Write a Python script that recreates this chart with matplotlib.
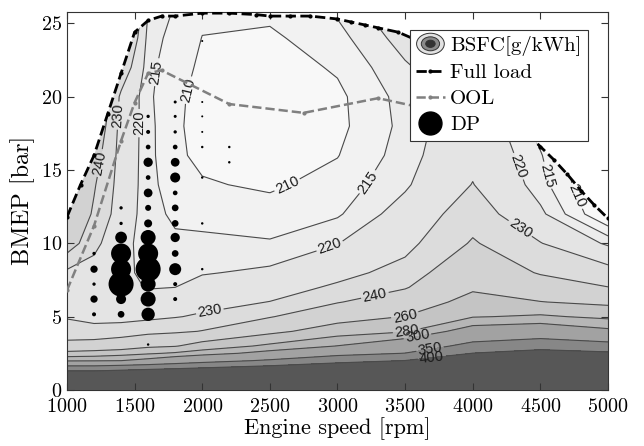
import numpy as np
import matplotlib.pyplot as plt
from matplotlib.patches import Polygon, Ellipse
from matplotlib.legend_handler import HandlerBase
from matplotlib.lines import Line2D

plt.rcParams['font.family'] = 'cmr10'
plt.rcParams['axes.formatter.use_mathtext'] = True
plt.rcParams['mathtext.fontset'] = 'cm'

# --- BSFC map [g/kWh], one row per engine speed, one value per BMEP node ---
speed = [1000, 1200, 1400, 1600, 1800, 2000, 2500, 3000, 3500, 4000, 4500, 5000]
bmep = [0, 1, 1.5, 2, 2.5, 3, 4, 5, 6, 7, 8, 10, 12, 14, 16, 18, 20, 22, 24, 26]
bsfc_by_speed = [
    [800, 443, 371, 297, 266, 243, 235.4, 229, 226, 226, 228, 246, 252, 258, 262, 266, 270, 275, 280, 285],
    [800, 443, 371, 298, 268, 246, 232.3, 228, 225, 224.5, 226, 232.7, 238.5, 241, 245, 250, 256, 262, 268, 274],
    [800, 450, 378.6, 300, 272.5, 248, 234.4, 227, 224, 222.5, 222, 222.5, 225, 226, 226.5, 227, 228, 238, 250, 260],
    [800, 457, 386, 308, 277.5, 256, 236, 228.2, 223.8, 219.5, 218, 217, 216.5, 216.5, 216.5, 216.5, 216, 216.5, 217.5, 220],
    [800, 464, 393, 321.4, 282.5, 258.8, 237.8, 229.5, 224.8, 220, 217.5, 215.8, 214.2, 212.5, 211, 210.8, 211, 211.8, 213, 214.5],
    [800, 471, 401, 333.3, 290, 268, 240.5, 231.3, 226.7, 222.7, 219.5, 216.2, 213.2, 210.5, 208.8, 208.3, 208.5, 209.2, 209.9, 211],
    [800, 481, 419, 356, 309, 284, 255, 239.1, 230.2, 225.7, 221.3, 215.5, 212.1, 209.2, 207.3, 206.5, 206.5, 207.2, 209.0, 211.5],
    [800, 494, 439, 383, 335.7, 300.5, 270, 252, 239.2, 231.5, 227.1, 219.8, 214.3, 212.0, 209.8, 208.6, 208.8, 210.7, 213.2, 216],
    [800, 500, 450, 401, 351, 322.2, 278.2, 260.5, 248.9, 238.9, 233.3, 227.1, 223.1, 219.0, 217.3, 216.5, 217.0, 219.2, 222.5, 226],
    [800, 507, 471, 436, 401, 364, 313.6, 278.8, 266.3, 257.3, 251.9, 241.1, 235.4, 230.3, 227.5, 226, 225.5, 226, 227, 229],
    [800, 534.6, 496, 457.7, 419, 380.8, 320, 282.9, 260.5, 248.2, 238.75, 230.4, 221.4, 217.0, 215.4, 213, 212, 213, 214, 216],
    [800, 533, 491, 450, 408, 367, 305.6, 275.6, 255.4, 240.2, 234.1, 218.75, 204, 202, 202, 202, 202, 202, 202, 202],
]

# --- full load curve ---
fl_speed = [1000, 1100, 1200, 1300, 1400, 1500, 1600, 1700, 1800, 2000, 2200, 2400, 2500,
            2650, 2800, 3000, 3100, 3200, 3300, 3450, 3600, 3800, 4000, 4200, 4400, 4500,
            4600, 4700, 4800, 4900, 5000]
fl_bmep = [11.8, 14.0, 16.0, 18.8, 21.6, 24.4, 25.2, 25.5, 25.5, 25.7, 25.7, 25.6, 25.5,
           25.5, 25.5, 25.3, 25.1, 24.9, 24.7, 24.4, 23.8, 22.6, 21.2, 19.6, 17.5, 16.6,
           15.7, 14.7, 13.6, 12.6, 11.7]

# --- optimal operating line ---
ool_speed = [1000, 1200, 1400, 1500, 1600, 1700, 2200, 2750, 3300, 3550, 4100]
ool_bmep = [6.8, 11.2, 17.0, 19.6, 21.6, 21.8, 19.5, 18.9, 19.9, 19.4, 19.8]

# --- drive cycle operating points (weight ~ time share) ---
dp_speed = [1200] * 5 + [1400] * 8 + [1600] * 15 + [1800] * 14 + [2000] * 8 + [2200] * 2
dp_bmep = [9.31, 8.24, 7.22, 6.2, 5.16,
           12.42, 11.36, 10.4, 9.31, 8.24, 7.22, 6.2, 5.16,
           18.66, 17.6, 16.57, 15.53, 14.49, 13.44, 12.42, 11.36, 10.4, 9.31, 8.24, 7.22, 6.2, 5.16, 3.1,
           19.64, 18.66, 17.6, 16.57, 15.53, 14.49, 13.44, 12.42, 11.36, 10.4, 9.31, 8.24, 7.22, 6.2,
           23.8, 19.64, 18.66, 17.6, 16.57, 14.49, 11.36, 8.24,
           16.57, 15.53]
dp_weight = [1.1, 5.3, 1.1, 5.3, 1.6,
             1.1, 1.1, 13.7, 40, 40, 62.5, 10, 4.5,
             1.1, 1.6, 2.2, 8.6, 2.2, 7.6, 3.6, 6.4, 22.5, 40, 62.5, 22.5, 22.5, 17.7, 0.6,
             0.9, 0.9, 1.1, 2.2, 7.6, 10, 2.2, 4.5, 4.5, 8.6, 4.5, 14.4, 1.6, 1.6,
             0.4, 0.4, 0.4, 0.4, 0.6, 0.6, 0.6, 0.6,
             0.6, 0.6]

fill_levels = [150, 210, 215, 220, 230, 240, 260, 280, 300, 350, 400, 1000]
line_levels = [210, 215, 220, 230, 240, 260, 280, 300, 350, 400]
fill_colors = ['#f8f8f8', '#f2f2f2', '#ececec', '#e4e4e4', '#dcdcdc', '#d2d2d2',
               '#c4c4c4', '#b6b6b6', '#a2a2a2', '#878787', '#575757']

# where the contour labels sit
label_pos = [(1230, 15.5), (1404, 18.7), (1515, 18.2), (1640, 21.7), (1836, 20.6),
             (2627, 14.0), (3255, 14.0), (2950, 9.6), (2059, 5.2), (3280, 6.3),
             (3500, 5.0), (3514, 3.9), (3596, 3.4), (3690, 2.5), (3700, 2.0),
             (4350, 11.0), (4350, 15.3), (4535, 14.6), (4760, 13.2)]


class BsfcHandler(HandlerBase):
    def create_artists(self, legend, orig_handle, xdescent, ydescent, width, height, fontsize, trans):
        cx = 0.5 * width - xdescent
        cy = 0.5 * height - ydescent
        out = []
        for k, fc in [(1.0, '#e2e2e2'), (0.66, '#8a8a8a'), (0.34, '#333333')]:
            out.append(Ellipse((cx, cy), width * 0.95 * k, height * 1.45 * k, facecolor=fc,
                               edgecolor='#333333', linewidth=0.7, transform=trans))
        return out


fig = plt.figure(figsize=(6.44, 4.46), dpi=100)
ax = fig.add_axes([0.104, 0.1256, 0.8401, 0.8482])

S, B = np.meshgrid(speed, bmep)
Z = np.array(bsfc_by_speed).T

cf = ax.contourf(S, B, Z, levels=fill_levels, colors=fill_colors)
cl = ax.contour(S, B, Z, levels=line_levels, colors='#4a4a4a', linewidths=0.8)
labels = ax.clabel(cl, manual=label_pos, inline=True, inline_spacing=3, fmt='%d',
                   fontsize=10.5, colors='#1a1a1a')
for t in labels:
    t.set_fontfamily('Liberation Sans')

clip = Polygon(np.column_stack([fl_speed + [5000, 1000], fl_bmep + [0, 0]]),
               closed=True, transform=ax.transData)
cf.set_clip_path(clip)
cl.set_clip_path(clip)

ool_line, = ax.plot(ool_speed, ool_bmep, ls='--', color='#808080', lw=1.8,
                    marker='.', markersize=4, zorder=4)
fl_line, = ax.plot(fl_speed, fl_bmep, ls='--', color='black', lw=2.0,
                   marker='.', markersize=4, zorder=4)
ax.scatter(dp_speed, dp_bmep, s=[5.2 * w for w in dp_weight], c='black',
           linewidths=0, zorder=5)

ax.set_xlim(1000, 5000)
ax.set_ylim(0, 25.8)
ax.set_xticks(range(1000, 5001, 500))
ax.set_yticks(range(0, 26, 5))
ax.tick_params(direction='in', top=True, right=True, length=5, width=0.8,
               labelsize=14.5, color='#333333')
ax.tick_params(axis='x', pad=6)
for sp in ax.spines.values():
    sp.set_linewidth(0.8)
    sp.set_color('#333333')
ax.set_xlabel('Engine speed [rpm]', fontsize=16, labelpad=1)
ax.set_ylabel('BMEP [bar]', fontsize=17.5, labelpad=4)

bsfc_proxy = Ellipse((0, 0), 1, 1)
dp_proxy = Line2D([], [], ls='none', marker='o', color='black', markersize=16.5)
leg = ax.legend([bsfc_proxy, fl_line, ool_line, dp_proxy],
                ['BSFC[g/kWh]', 'Full load', 'OOL', 'DP'],
                handler_map={bsfc_proxy: BsfcHandler()},
                loc='upper right', bbox_to_anchor=(0.963, 0.952), borderaxespad=0,
                fontsize=15, handlelength=1.4, handletextpad=0.25, labelspacing=0.36,
                borderpad=0.3, fancybox=False, edgecolor='#333333', framealpha=1)
leg.get_frame().set_linewidth(0.8)
leg.set_zorder(10)

fig.savefig('out.png', dpi=100)
